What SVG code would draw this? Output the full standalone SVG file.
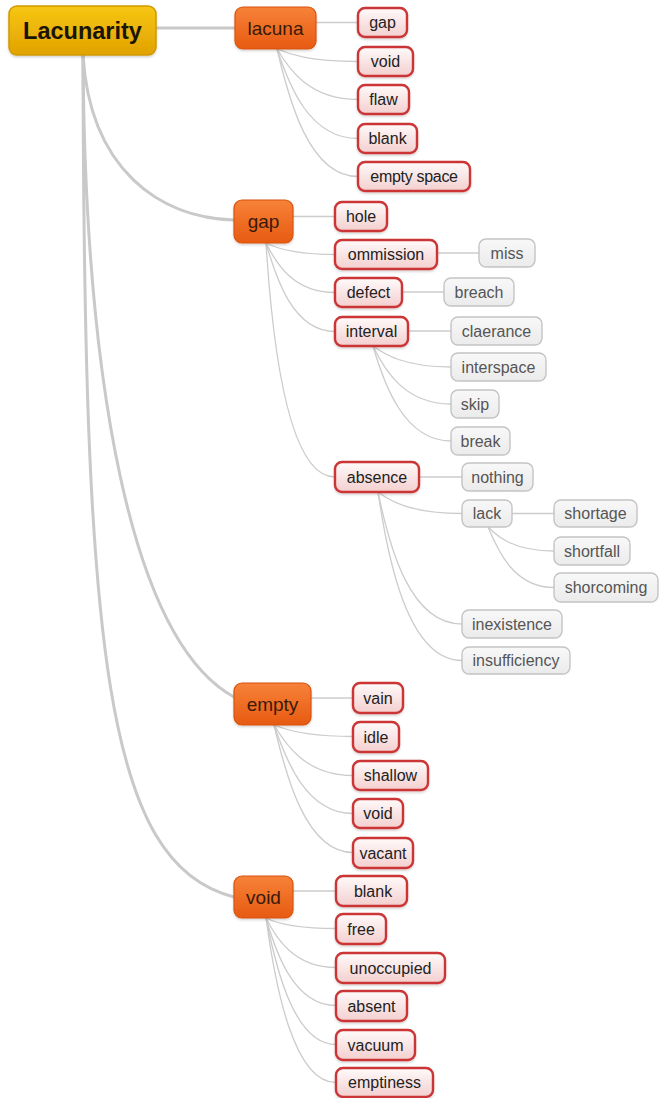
<svg xmlns="http://www.w3.org/2000/svg" width="659" height="1098" viewBox="0 0 659 1098">
  <defs>
    <linearGradient id="gRoot" x1="0" y1="0" x2="0" y2="1">
      <stop offset="0" stop-color="#f7c614"/>
      <stop offset="1" stop-color="#e1a200"/>
    </linearGradient>
    <linearGradient id="gTopic" x1="0" y1="0" x2="0" y2="1">
      <stop offset="0" stop-color="#f7823a"/>
      <stop offset="1" stop-color="#e75a10"/>
    </linearGradient>
    <linearGradient id="gSub" x1="0" y1="0" x2="0" y2="1">
      <stop offset="0" stop-color="#fffafa"/>
      <stop offset="1" stop-color="#f4cfcf"/>
    </linearGradient>
    <linearGradient id="gLeaf" x1="0" y1="0" x2="0" y2="1">
      <stop offset="0" stop-color="#f8f8f8"/>
      <stop offset="1" stop-color="#ebebeb"/>
    </linearGradient>
    <filter id="shadow" x="-10%" y="-10%" width="120%" height="140%">
      <feDropShadow dx="0" dy="1.5" stdDeviation="1.2" flood-color="#000" flood-opacity="0.18"/>
    </filter>
  </defs>
  <style>
    .root rect { fill: url(#gRoot); stroke: #cf9a00; stroke-width: 1.5; filter: url(#shadow); }
    .topic rect { fill: url(#gTopic); stroke: #d9540e; stroke-width: 1.2; filter: url(#shadow); }
    .sub rect { fill: url(#gSub); stroke: #cc3535; stroke-width: 2.4; filter: url(#shadow); }
    .leaf rect { fill: url(#gLeaf); stroke: #c4c4c4; stroke-width: 1.4; }
    text { font-family: "Liberation Sans", Arial, sans-serif; text-anchor: middle; }
    .root text { font-size: 23.5px; font-weight: bold; fill: #1a1405; }
    .topic text { font-size: 19px; fill: #3a1a0a; }
    .sub text { font-size: 16px; fill: #222; }
    .leaf text { font-size: 16px; fill: #555; }
    .trunk { fill: none; stroke: #c9c9c9; stroke-width: 3; stroke-linecap: round; }
    .branch { fill: none; stroke: #cccccc; stroke-width: 1.3; }
  </style>

  <g id="connectors">
    <!-- root to main topics -->
    <path class="trunk" d="M156,28 L235,28"/>
    <path class="trunk" d="M83,55 C90,170 160,218 234,220"/>
    <path class="trunk" d="M83,55 C85,380 130,640 234,697"/>
    <path class="trunk" d="M83,55 C84,650 105,865 234,897"/>
    <!-- lacuna -->
    <path class="branch" d="M316,22.5 L358,22.5"/>
    <path class="branch" d="M277,49 C289,54 309,61.5 358,61.5"/>
    <path class="branch" d="M277,49 C289,69 309,99.5 358,99.5"/>
    <path class="branch" d="M277,49 C289,85 309,138.5 358,138.5"/>
    <path class="branch" d="M277,49 C289,100 309,176.5 358,176.5"/>
    <!-- gap -->
    <path class="branch" d="M293,216.5 L335,216.5"/>
    <path class="branch" d="M266,243 C276,248 293,254.5 335,254.5"/>
    <path class="branch" d="M266,243 C276,263 293,292.5 335,292.5"/>
    <path class="branch" d="M266,243 C276,278 293,331.5 335,331.5"/>
    <path class="branch" d="M266,243 C273,355 290,477 335,477"/>
    <path class="branch" d="M437,253 L479,253"/>
    <path class="branch" d="M402,292 L444,292"/>
    <path class="branch" d="M408,331 L451,331"/>
    <path class="branch" d="M373,346 C384,354 404,367 451,367"/>
    <path class="branch" d="M373,346 C384,369 404,404 451,404"/>
    <path class="branch" d="M373,346 C384,384 404,441 451,441"/>
    <path class="branch" d="M419,477 L462,477"/>
    <path class="branch" d="M378,492 C390,501 411,513.5 462,513.5"/>
    <path class="branch" d="M378,492 C389,545 409,624 462,624"/>
    <path class="branch" d="M378,492 C388,560 408,660.5 462,660.5"/>
    <path class="branch" d="M512,513.5 L554,513.5"/>
    <path class="branch" d="M488,527 C498,537 514,551 554,551"/>
    <path class="branch" d="M488,527 C498,551 514,587.5 554,587.5"/>
    <!-- empty -->
    <path class="branch" d="M311,698 L353,698"/>
    <path class="branch" d="M274,725 C286,730 306,736.5 353,736.5"/>
    <path class="branch" d="M274,725 C286,745 306,775.5 353,775.5"/>
    <path class="branch" d="M274,725 C286,760 306,813.5 353,813.5"/>
    <path class="branch" d="M274,725 C286,776 306,852.5 353,852.5"/>
    <!-- void -->
    <path class="branch" d="M293,891 L336,891"/>
    <path class="branch" d="M266,918 C276,923 294,928.5 336,928.5"/>
    <path class="branch" d="M266,918 C276,938 294,967.5 336,967.5"/>
    <path class="branch" d="M266,918 C276,953 294,1005.5 336,1005.5"/>
    <path class="branch" d="M266,918 C276,968 294,1044.5 336,1044.5"/>
    <path class="branch" d="M266,918 C275,984 293,1082.5 336,1082.5"/>
  </g>

  <!-- central idea -->
  <g id="n-lacunarity" class="root"><rect x="9" y="6" width="147" height="49" rx="8"/><text x="82.5" y="38.5">Lacunarity</text></g>

  <!-- main topics -->
  <g id="n-lacuna" class="topic"><rect x="235" y="7" width="81" height="42" rx="8"/><text x="275.5" y="34.5">lacuna</text></g>
  <g id="n-gap" class="topic"><rect x="234" y="200" width="59" height="43" rx="8"/><text x="263.5" y="227.5">gap</text></g>
  <g id="n-empty" class="topic"><rect x="234" y="683" width="77" height="42" rx="8"/><text x="272.5" y="710.5">empty</text></g>
  <g id="n-void" class="topic"><rect x="234" y="876" width="59" height="42" rx="8"/><text x="263.5" y="903.5">void</text></g>

  <!-- lacuna subtopics -->
  <g id="n-lacuna-gap" class="sub"><rect x="358" y="8" width="49" height="29" rx="7"/><text x="382.5" y="28">gap</text></g>
  <g id="n-lacuna-void" class="sub"><rect x="358" y="47" width="55" height="29" rx="7"/><text x="385.5" y="67">void</text></g>
  <g id="n-lacuna-flaw" class="sub"><rect x="358" y="85" width="51" height="29" rx="7"/><text x="383.5" y="105">flaw</text></g>
  <g id="n-lacuna-blank" class="sub"><rect x="358" y="124" width="59" height="29" rx="7"/><text x="387.5" y="144">blank</text></g>
  <g id="n-lacuna-empty-space" class="sub"><rect x="358" y="162" width="112" height="29" rx="7"/><text x="414" y="182" letter-spacing="-0.3">empty space</text></g>

  <!-- gap subtopics -->
  <g id="n-gap-hole" class="sub"><rect x="335" y="202" width="52" height="29" rx="7"/><text x="361" y="222">hole</text></g>
  <g id="n-gap-ommission" class="sub"><rect x="335" y="240" width="102" height="29" rx="7"/><text x="386" y="260">ommission</text></g>
  <g id="n-gap-defect" class="sub"><rect x="335" y="278" width="67" height="29" rx="7"/><text x="368.5" y="298">defect</text></g>
  <g id="n-gap-interval" class="sub"><rect x="335" y="317" width="73" height="29" rx="7"/><text x="371.5" y="337">interval</text></g>
  <g id="n-gap-absence" class="sub"><rect x="335" y="462" width="84" height="30" rx="7"/><text x="377" y="482.5">absence</text></g>

  <g id="n-miss" class="leaf"><rect x="479" y="239" width="56" height="28" rx="7"/><text x="507" y="258.5">miss</text></g>
  <g id="n-breach" class="leaf"><rect x="444" y="278" width="70" height="28" rx="7"/><text x="479" y="297.5">breach</text></g>
  <g id="n-clearance" class="leaf"><rect x="451" y="317" width="91" height="28" rx="7"/><text x="496.5" y="336.5">claerance</text></g>
  <g id="n-interspace" class="leaf"><rect x="451" y="353" width="95" height="28" rx="7"/><text x="498.5" y="372.5">interspace</text></g>
  <g id="n-skip" class="leaf"><rect x="451" y="390" width="48" height="28" rx="7"/><text x="475" y="409.5">skip</text></g>
  <g id="n-break" class="leaf"><rect x="451" y="427" width="59" height="28" rx="7"/><text x="480.5" y="446.5">break</text></g>
  <g id="n-nothing" class="leaf"><rect x="462" y="463" width="71" height="28" rx="7"/><text x="497.5" y="482.5">nothing</text></g>
  <g id="n-lack" class="leaf"><rect x="462" y="500" width="50" height="27" rx="7"/><text x="487" y="519">lack</text></g>
  <g id="n-shortage" class="leaf"><rect x="554" y="500" width="83" height="27" rx="7"/><text x="595.5" y="519">shortage</text></g>
  <g id="n-shortfall" class="leaf"><rect x="554" y="537" width="76" height="28" rx="7"/><text x="592" y="556.5">shortfall</text></g>
  <g id="n-shorcoming" class="leaf"><rect x="554" y="573" width="104" height="29" rx="7"/><text x="606" y="593">shorcoming</text></g>
  <g id="n-inexistence" class="leaf"><rect x="462" y="610" width="100" height="28" rx="7"/><text x="512" y="629.5">inexistence</text></g>
  <g id="n-insufficiency" class="leaf"><rect x="462" y="647" width="108" height="27" rx="7"/><text x="516" y="666">insufficiency</text></g>

  <!-- empty subtopics -->
  <g id="n-empty-vain" class="sub"><rect x="353" y="683" width="50" height="30" rx="7"/><text x="378" y="703.5">vain</text></g>
  <g id="n-empty-idle" class="sub"><rect x="353" y="722" width="46" height="30" rx="7"/><text x="376" y="742.5">idle</text></g>
  <g id="n-empty-shallow" class="sub"><rect x="353" y="761" width="75" height="29" rx="7"/><text x="390.5" y="781">shallow</text></g>
  <g id="n-empty-void" class="sub"><rect x="353" y="799" width="50" height="29" rx="7"/><text x="378" y="819">void</text></g>
  <g id="n-empty-vacant" class="sub"><rect x="353" y="838" width="60" height="30" rx="7"/><text x="383" y="858.5">vacant</text></g>

  <!-- void subtopics -->
  <g id="n-void-blank" class="sub"><rect x="336" y="876" width="71" height="30" rx="7"/><text x="373" y="896.5">blank</text></g>
  <g id="n-void-free" class="sub"><rect x="336" y="914" width="50" height="30" rx="7"/><text x="361" y="934.5">free</text></g>
  <g id="n-void-unoccupied" class="sub"><rect x="336" y="953" width="109" height="30" rx="7"/><text x="390.5" y="973.5">unoccupied</text></g>
  <g id="n-void-absent" class="sub"><rect x="336" y="991" width="71" height="30" rx="7"/><text x="371.5" y="1011.5">absent</text></g>
  <g id="n-void-vacuum" class="sub"><rect x="336" y="1030" width="79" height="30" rx="7"/><text x="375.5" y="1050.5">vacuum</text></g>
  <g id="n-void-emptiness" class="sub"><rect x="336" y="1068" width="97" height="29" rx="7"/><text x="384.5" y="1088">emptiness</text></g>
</svg>
